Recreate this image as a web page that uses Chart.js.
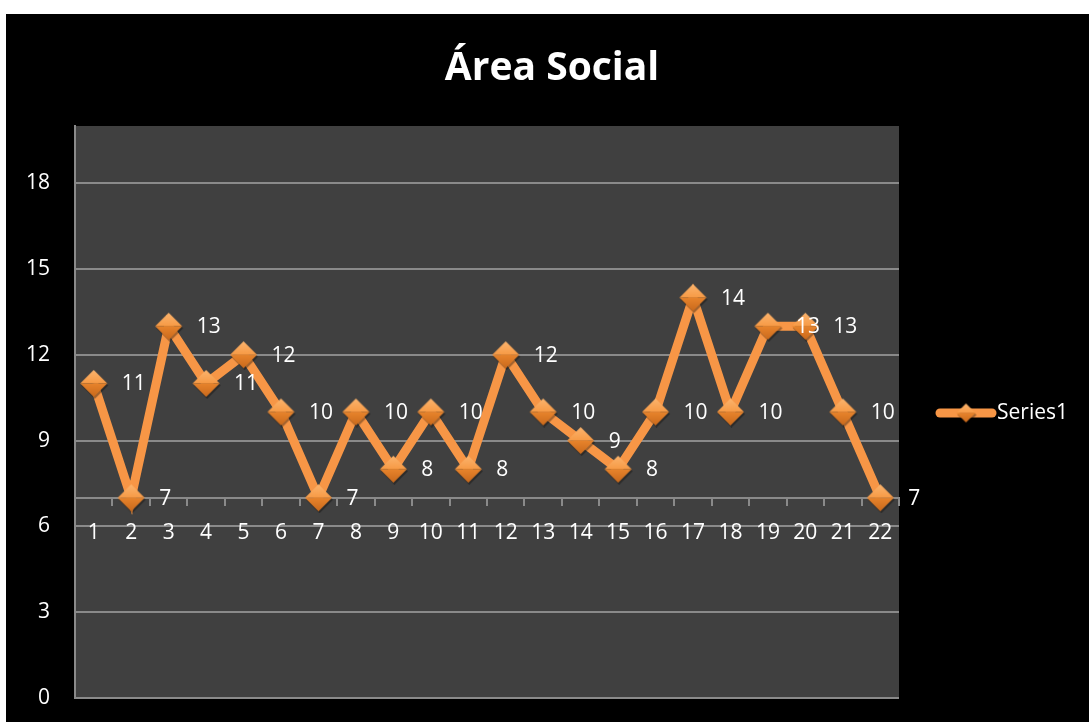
<!DOCTYPE html>
<html>
<head>
<meta charset="utf-8">
<script src="https://cdn.jsdelivr.net/npm/chart.js@4"></script>
<style>
  html, body { margin: 0; background: #fff; }
  #wrap { position: absolute; left: 6px; top: 14px; width: 1083px; height: 708px; background: #000; }
</style>
</head>
<body>
<div id="wrap"><canvas id="chart"></canvas></div>
<script>
/* ── data ── */
const categories = ['1','2','3','4','5','6','7','8','9','10','11','12','13','14','15','16','17','18','19','20','21','22'];
const series1    = [11, 7, 13, 11, 12, 10, 7, 10, 8, 10, 8, 12, 10, 9, 8, 10, 14, 10, 13, 13, 10, 7];
const yTicks     = [0, 3, 6, 9, 12, 15, 18];
const yMax       = 20;
const axisCross  = 7;
const chartTitle = 'Área Social';
const seriesName = 'Series1';

const ORANGE = '#f79646';
const GRID   = '#8a8a8a';
const FONT   = '"Open Sans", sans-serif';

/* ===================== DIAMOND MARKER ===================== */
function makeDiamond(size) {
    const c = document.createElement('canvas');
    c.width = c.height = size + 4;
    const g = c.getContext('2d');
    const h = size / 2, cx = size / 2 + 2, cy = size / 2 + 2;
    const diamond = (ox, oy) => {
        g.beginPath();
        g.moveTo(cx - h + ox, cy + oy);
        g.lineTo(cx + ox, cy - h + oy);
        g.lineTo(cx + h + ox, cy + oy);
        g.lineTo(cx + ox, cy + h + oy);
        g.closePath();
    };
    // soft shadow
    g.fillStyle = 'rgba(0,0,0,0.35)';
    diamond(1, 2); g.fill();
    // top half (light)
    const top = g.createLinearGradient(0, cy - h, 0, cy);
    top.addColorStop(0, '#fbb46e');
    top.addColorStop(1, '#f79a45');
    g.fillStyle = top;
    g.beginPath(); g.moveTo(cx - h, cy); g.lineTo(cx, cy - h); g.lineTo(cx + h, cy); g.closePath(); g.fill();
    // bottom half (dark)
    const bot = g.createLinearGradient(0, cy, 0, cy + h);
    bot.addColorStop(0, '#e8842c');
    bot.addColorStop(1, '#c9691c');
    g.fillStyle = bot;
    g.beginPath(); g.moveTo(cx - h, cy); g.lineTo(cx + h, cy); g.lineTo(cx, cy + h); g.closePath(); g.fill();
    return c;
}
const bigDiamond = makeDiamond(27);
const smallDiamond = makeDiamond(19);

/* ===================== PLUGINS ===================== */
const plotBackground = {
    id: 'plotBackground',
    beforeDraw(chart) {
        const { ctx, chartArea: a } = chart;
        ctx.save();
        ctx.fillStyle = '#000';
        ctx.fillRect(0, 0, chart.width, chart.height);
        ctx.fillStyle = '#404040';
        ctx.fillRect(a.left, a.top, a.right - a.left, a.bottom - a.top);
        ctx.restore();
    }
};

const valueLabels = {
    id: 'valueLabels',
    afterDatasetsDraw(chart) {
        const ctx = chart.ctx;
        const meta = chart.getDatasetMeta(0);
        ctx.save();
        ctx.font = '21px ' + FONT;
        ctx.fillStyle = '#fff';
        ctx.textAlign = 'left';
        ctx.textBaseline = 'middle';
        meta.data.forEach((pt, i) => ctx.fillText(String(series1[i]), pt.x + 28, pt.y + 1));
        ctx.restore();
    }
};

const titleAndLegend = {
    id: 'titleAndLegend',
    afterDraw(chart) {
        const ctx = chart.ctx;
        ctx.save();
        // title
        ctx.font = 'bold 39px ' + FONT;
        ctx.fillStyle = '#fff';
        ctx.textAlign = 'center';
        ctx.textBaseline = 'middle';
        ctx.fillText(chartTitle, 546, 55);
        // legend
        const ly = 399;
        ctx.strokeStyle = ORANGE;
        ctx.lineWidth = 9;
        ctx.lineCap = 'round';
        ctx.beginPath(); ctx.moveTo(934, ly); ctx.lineTo(986, ly); ctx.stroke();
        ctx.drawImage(smallDiamond, 960 - smallDiamond.width / 2, ly - smallDiamond.height / 2);
        ctx.font = '21px ' + FONT;
        ctx.textAlign = 'left';
        ctx.fillText(seriesName, 991, ly);
        ctx.restore();
    }
};

/* ===================== CHART ===================== */
new Chart(document.getElementById('chart'), {
    type: 'line',
    data: {
        labels: categories,
        datasets: [{
            label: seriesName,
            data: series1,
            borderColor: ORANGE,
            borderWidth: 9,
            tension: 0,
            pointStyle: bigDiamond,
            pointRadius: 14,
            pointHoverRadius: 14,
            fill: false
        }]
    },
    options: {
        responsive: true,
        maintainAspectRatio: false,
        animation: false,
        events: [],
        layout: { padding: { top: 112, right: 190, bottom: 24, left: 0 } },
        plugins: {
            legend: { display: false },
            title: { display: false },
            tooltip: { enabled: false }
        },
        scales: {
            x: {
                type: 'category',
                offset: true,
                position: { y: axisCross },
                afterFit(scale) { scale.height = 0; scale.paddingTop = 0; scale.paddingBottom = 0; },
                grid: { drawOnChartArea: false, drawTicks: true, tickLength: 7, color: GRID, lineWidth: 2, offset: true },
                border: { display: true, color: GRID, width: 2 },
                ticks: { color: '#fff', font: { size: 21, family: FONT }, padding: 16, maxRotation: 0, autoSkip: false }
            },
            y: {
                min: 0,
                max: yMax,
                afterBuildTicks(scale) { scale.ticks = yTicks.map(v => ({ value: v })); },
                afterFit(scale) { scale.width = 69; scale.paddingTop = 0; scale.paddingBottom = 0; },
                grid: { color: GRID, lineWidth: 2, drawTicks: false },
                border: { display: true, color: GRID, width: 2 },
                ticks: { color: '#fff', font: { size: 21, family: FONT }, padding: 25 }
            }
        }
    },
    plugins: [plotBackground, valueLabels, titleAndLegend]
});
</script>
</body>
</html>
